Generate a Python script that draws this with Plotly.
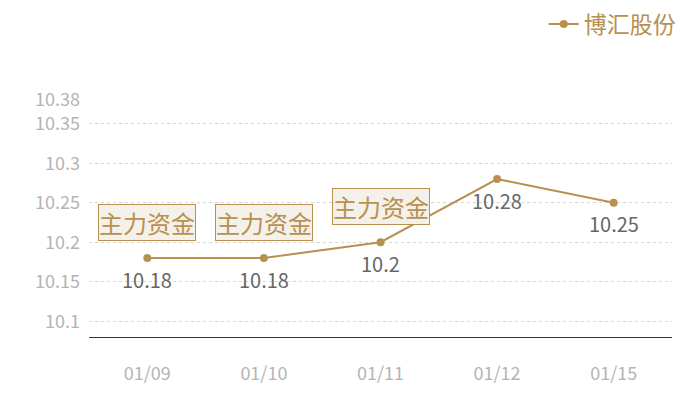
import plotly.graph_objects as go

dates = ['01/09', '01/10', '01/11', '01/12', '01/15']
prices = [10.18, 10.18, 10.2, 10.28, 10.25]
flag_dates = ['01/09', '01/10', '01/11']
flag_prices = [10.18, 10.18, 10.2]
flag_text = '主力资金'
y_ticks = [10.1, 10.15, 10.2, 10.25, 10.3, 10.35, 10.38]

gold = '#b8904f'
font_family = 'Noto Sans CJK SC, Noto Sans, sans-serif'

fig = go.Figure()
fig.add_trace(go.Scatter(
    x=dates, y=prices,
    name='博汇股份',
    mode='lines+markers',
    line=dict(color=gold, width=2),
    marker=dict(color=gold, size=8),
))

# value labels under each point
for d, p in zip(dates, prices):
    fig.add_annotation(
        x=d, y=p, text=str(p), showarrow=False, yshift=-21,
        font=dict(size=20, color='#666666', family=font_family),
    )

# "主力资金" flags above the first points
for d, p in zip(flag_dates, flag_prices):
    fig.add_annotation(
        x=d, y=p, text=flag_text,
        showarrow=False, yshift=36,
        font=dict(size=24, color=gold, family=font_family),
        bgcolor='#f4f0ea', bordercolor=gold, borderwidth=1, borderpad=0,
    )

# page body has an 8px margin, so the figure is a bit smaller and shifted
fig.update_layout(
    width=684, height=384,
    margin=dict(l=81, r=20, t=92, b=55, autoexpand=False),
    paper_bgcolor='white', plot_bgcolor='white',
    font=dict(family=font_family),
    showlegend=True,
    legend=dict(
        x=1.015, y=1.32, xanchor='right', yanchor='middle',
        font=dict(size=23, color=gold),
        bgcolor='rgba(0,0,0,0)', itemwidth=30,
    ),
)
fig.update_xaxes(
    type='category', range=[-0.5, 4.5], automargin=False,
    showgrid=False, showline=True, linecolor='#333333', linewidth=1,
    ticks='', ticklabelstandoff=20,
    tickfont=dict(size=18, color='#b4b4b4'),
    zeroline=False,
)
fig.update_yaxes(
    range=[10.08, 10.38], tickvals=y_ticks, automargin=False,
    ticktext=[str(t) for t in y_ticks],
    showgrid=True, gridcolor='#d6d6d6', griddash='dot', gridwidth=1,
    showline=False, zeroline=False, ticks='', ticklabelstandoff=8,
    tickfont=dict(size=18, color='#b4b4b4'),
)

fig.write_html('out.html')
